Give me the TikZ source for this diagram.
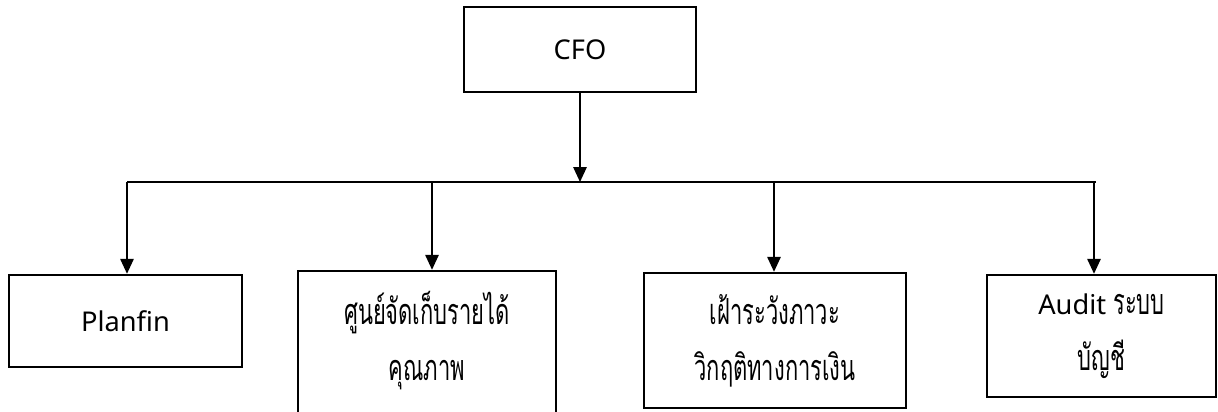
\documentclass[tikz,border=0pt]{standalone}
\usepackage{fontspec}
\setmainfont{Noto Sans}
\newfontfamily\thaifont[Script=Thai, FakeStretch=0.61, Scale=1.32]{Loma}
\usetikzlibrary{arrows.meta, positioning}
\tikzset{unit/.style={draw=black, line width=1.4pt, align=center, inner sep=0pt, font=\fontsize{15.5}{32}\selectfont},
    down/.style={-{Triangle[width=0.27cm,length=0.3cm]}, line width=0.85pt}}
\newcommand{\lift}[1]{\rule[-#1]{0pt}{0pt}}
\begin{document}
\begin{tikzpicture}
            \useasboundingbox (0,0) rectangle (24.36,8.22);
            \node[unit, minimum width=4.64cm, minimum height=1.70cm] (cfo) at (11.6,7.23) {CFO};
            \node[unit, minimum width=4.66cm, minimum height=1.84cm] (planfin) at (2.51,1.80) {Planfin};
            \node[unit, minimum width=5.16cm, minimum height=2.94cm] (revenue) at (8.54,1.33) {\thaifont ศูนย์จัดเก็บรายได้\\\thaifont คุณภาพ\lift{10pt}};
            \node[unit, minimum width=5.24cm, minimum height=2.70cm] (crisis) at (15.50,1.41) {\thaifont เฝ้าระวังภาวะ\\\thaifont วิกฤติทางการเงิน};
            \node[unit, minimum width=4.58cm, minimum height=2.44cm] (audit) at (22.03,1.50) {Audit {\thaifont ระบบ}\\\thaifont บัญชี\lift{4pt}};
            \coordinate (busl) at (2.54,4.58);
            \coordinate (busr) at (21.92,4.58);
            \draw[line width=1.4pt](busl)--(busr);
            \draw[down](cfo.south)--(cfo.south|-busl);
            \draw[down](busl)--(planfin.north-|busl);
            \draw[down](8.64,4.58)--(revenue.north-|8.64,0);
            \draw[down](15.48,4.58)--(crisis.north-|15.48,0);
            \draw[down](21.88,4.58)--(audit.north-|21.88,0);
        \end{tikzpicture}
\end{document}
